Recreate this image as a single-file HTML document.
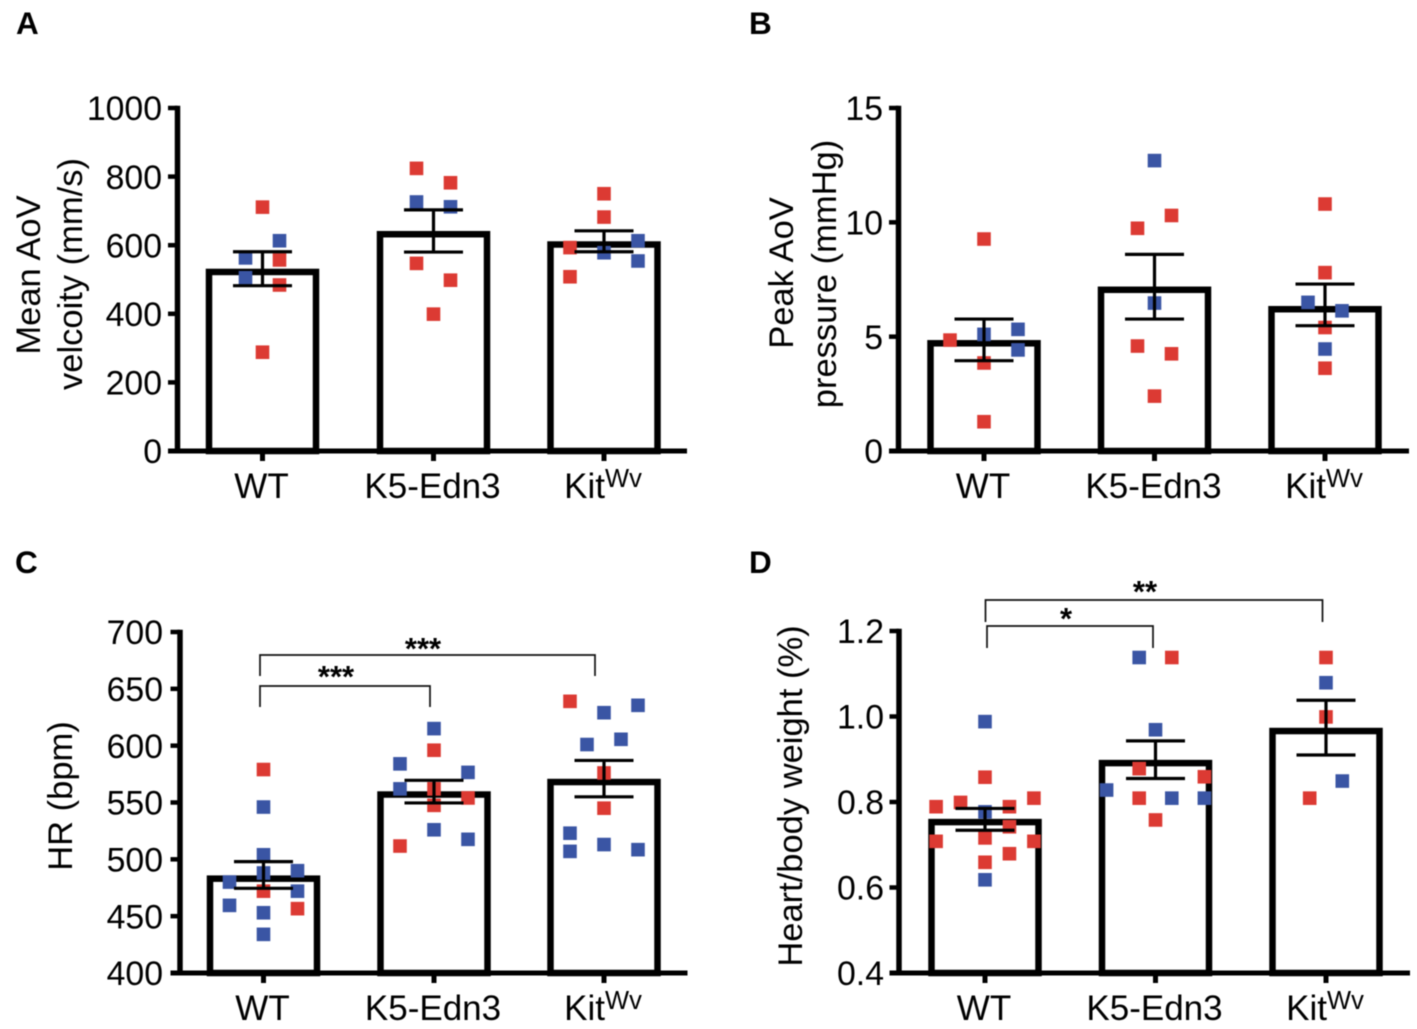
<!DOCTYPE html>
<html lang="en">
<head>
<meta charset="utf-8">
<title>Cardiac measurements in WT, K5-Edn3 and Kit-Wv mice</title>
<style>
html,body{margin:0;padding:0;background:#fff;overflow:hidden;}
svg{display:block;font-family:"Liberation Sans",Arial,sans-serif;filter:blur(0.4px);}
</style>
</head>
<body>
<svg id="figure" xmlns="http://www.w3.org/2000/svg" width="1417" height="1029" viewBox="0 0 1417 1029">
  <rect x="0" y="0" width="1417" height="1029" fill="#fff"/>
  <text x="16" y="34" font-size="31.5" font-weight="bold">A</text>
  <text x="749" y="34" font-size="31.5" font-weight="bold">B</text>
  <text x="15" y="573" font-size="31.5" font-weight="bold">C</text>
  <text x="749" y="573" font-size="31.5" font-weight="bold">D</text>

  <text transform="translate(40,275) rotate(-90)" text-anchor="middle" font-size="34.5">Mean AoV</text>
  <text transform="translate(82,274) rotate(-90)" text-anchor="middle" font-size="34.5">velcoity (mm/s)</text>
  <text transform="translate(793,273) rotate(-90)" text-anchor="middle" font-size="34.5">Peak AoV</text>
  <text transform="translate(836,274) rotate(-90)" text-anchor="middle" font-size="34.5">pressure (mmHg)</text>
  <text transform="translate(72,796) rotate(-90)" text-anchor="middle" font-size="34.5">HR (bpm)</text>
  <text transform="translate(802,796) rotate(-90)" text-anchor="middle" font-size="34.5">Heart/body weight (%)</text>
</svg>
<script>
// Shared categories
const categories = ["WT", "K5-Edn3", "Kit"];
const categorySuperscripts = ["", "", "Wv"];

// Panel A: mean AoV velocity
const aTicks = [0, 200, 400, 600, 800, 1000];
const aTickLabels = ["0", "200", "400", "600", "800", "1000"];
const aBars = [522, 632, 602];
const aErrHigh = [581, 703, 642];
const aErrLow = [482, 580, 581];
const aWtValues = [711, 613, 563, 557, 505, 484, 288];
const aWtSex = ["r", "b", "b", "r", "b", "r", "r"];
const aWtSlots = [0, 2, -2, 2, -2, 2, 0];
const aK5Values = [824, 782, 726, 712, 547, 498, 399];
const aK5Sex = ["r", "r", "b", "b", "r", "r", "r"];
const aK5Slots = [-2, 2, -2, 2, -2, 2, 0];
const aKitValues = [750, 682, 613, 593, 578, 554, 508];
const aKitSex = ["r", "r", "b", "r", "b", "b", "r"];
const aKitSlots = [0, 0, 4, -4, 0, 4, -4];

// Panel B: peak AoV pressure
const bTicks = [0, 5, 10, 15];
const bTickLabels = ["0", "5", "10", "15"];
const bBars = [4.71, 7.05, 6.2];
const bErrHigh = [5.77, 8.6, 7.3];
const bErrLow = [3.95, 5.77, 5.48];
const bWtValues = [9.27, 4.85, 5.32, 5.1, 4.42, 3.85, 1.28];
const bWtSex = ["r", "r", "b", "b", "b", "r", "r"];
const bWtSlots = [0, -4, 4, 0, 4, 0, 0];
const bK5Values = [12.7, 10.3, 9.74, 6.47, 4.59, 4.25, 2.4];
const bK5Sex = ["b", "r", "r", "b", "r", "r", "r"];
const bK5Slots = [0, 2, -2, 0, -2, 2, 0];
const bKitValues = [10.8, 7.8, 6.5, 6.13, 5.4, 4.46, 3.62];
const bKitSex = ["r", "r", "b", "b", "r", "b", "r"];
const bKitSlots = [0, 0, -2, 2, 0, 0, 0];

// Panel C: heart rate
const cTicks = [400, 450, 500, 550, 600, 650, 700];
const cTickLabels = ["400", "450", "500", "550", "600", "650", "700"];
const cBars = [483, 557, 568];
const cErrHigh = [498, 569.5, 587];
const cErrLow = [474.5, 549.6, 555];
const cWtValues = [579, 546, 504, 490, 488, 480, 472, 472, 459.5, 456.6, 453, 434];
const cWtSex = ["r", "b", "b", "b", "b", "b", "r", "b", "b", "r", "b", "b"];
const cWtSlots = [0, 0, 0, 4, 0, -4, 0, 4, -4, 4, 0, 0];
const cK5Values = [615, 596, 584, 576.5, 562, 562, 554, 547.5, 526, 517.6, 511.7];
const cK5Sex = ["b", "r", "b", "b", "b", "r", "r", "r", "b", "b", "r"];
const cK5Slots = [0, 0, -4, 4, -4, 0, 4, 0, 0, 4, -4];
const cKitValues = [639, 635.5, 629, 605.6, 601, 576, 545, 523, 513, 507, 508.5];
const cKitSex = ["r", "b", "b", "b", "b", "r", "r", "b", "b", "b", "b"];
const cKitSlots = [-4, 4, 0, 2, -2, 0, 0, -4, 0, -4, 4];

// Panel D: heart / body weight
const dTicks = [0.4, 0.6, 0.8, 1.0, 1.2];
const dTickLabels = ["0.4", "0.6", "0.8", "1.0", "1.2"];
const dBars = [0.753, 0.891, 0.966];
const dErrHigh = [0.785, 0.943, 1.038];
const dErrLow = [0.734, 0.855, 0.91];
const dWtValues = [0.988, 0.858, 0.809, 0.799, 0.789, 0.789, 0.777, 0.742, 0.716, 0.708, 0.708, 0.679, 0.659, 0.618];
const dWtSex = ["b", "r", "r", "r", "r", "r", "b", "r", "r", "r", "r", "r", "r", "b"];
const dWtSlots = [0, 0, 6, -3, -6, 3, 0, 3, 0, -6, 6, 3, 0, 0];
const dK5Values = [1.138, 1.138, 0.969, 0.878, 0.859, 0.828, 0.809, 0.809, 0.809, 0.758];
const dK5Sex = ["b", "r", "b", "r", "r", "b", "r", "b", "b", "r"];
const dK5Slots = [-2, 2, 0, -2, 6, -6, -2, 2, 6, 0];
const dKitValues = [1.138, 1.079, 0.999, 0.849, 0.809];
const dKitSex = ["r", "b", "r", "b", "r"];
const dKitSlots = [0, 0, 0, 2, -2];

const SVG_NS = "http://www.w3.org/2000/svg";
const figure = document.getElementById("figure");
const RED = "#dc3a33";
const BLUE = "#3a55a4";
const INK = "#000";

function make(tag, attrs, parent) {
  const el = document.createElementNS(SVG_NS, tag);
  Object.keys(attrs).forEach(function (k) { el.setAttribute(k, attrs[k]); });
  parent.appendChild(el);
  return el;
}

function drawBracket(parent, id, x1, x2, yTop, yBottom, stars, starX, starBaseline) {
  const path = make("path", {
    d: "M" + x1 + " " + yBottom + "V" + yTop + "H" + x2 + "V" + yBottom,
    fill: "none", stroke: "#111", "stroke-width": 1.7
  }, parent);
  
  
  const label = make("text", {
    x: starX, y: starBaseline, "text-anchor": "middle",
    "font-size": 31, "font-weight": "bold", fill: INK
  }, parent);
  
  
  label.textContent = stars;
}

function drawPanel(p) {
  const group = make("g", {}, figure);
  
  

  const dMin = p.ticks[0];
  const dMax = p.ticks[p.ticks.length - 1];
  const yScale = function (v) {
    return p.bottom - (v - dMin) / (dMax - dMin) * (p.bottom - p.top);
  };
  const xScale = function (i) { return p.centers[i]; };

  // bars
  p.bars.forEach(function (v, i) {
    const bar = make("rect", {
      x: xScale(i) - p.barHalf, y: yScale(v),
      width: p.barHalf * 2, height: p.bottom - yScale(v),
      fill: "#fff", stroke: INK, "stroke-width": 6.5
    }, group);
    
    
  });

  // points
  p.points.forEach(function (series, i) {
    series.values.forEach(function (v, j) {
      const cx = xScale(i) + series.slots[j] * p.slotWidth;
      const cy = yScale(v);
      const pt = make("rect", {
        x: cx - 6.8, y: cy - 6.8, width: 13.6, height: 13.6,
        fill: series.sex[j] === "r" ? RED : BLUE
      }, group);
      
      
    });
  });

  // error bars
  p.bars.forEach(function (v, i) {
    const cx = xScale(i);
    const hi = yScale(p.errHigh[i]);
    const lo = yScale(p.errLow[i]);
    const err = make("path", {
      d: "M" + (cx - 29.5) + " " + hi + "H" + (cx + 29.5) +
         "M" + cx + " " + hi + "V" + lo +
         "M" + (cx - 29.5) + " " + lo + "H" + (cx + 29.5),
      fill: "none", stroke: INK, "stroke-width": 3.2
    }, group);
    
    
  });

  // y axis
  const yAxis = make("line", {
    x1: p.axisX, x2: p.axisX, y1: p.top - 2.2, y2: p.bottom + 2.2,
    stroke: INK, "stroke-width": 5.5
  }, group);
  
  

  p.ticks.forEach(function (t, i) {
    const y = yScale(t);
    const tick = make("line", {
      x1: p.axisX - 9.5, x2: p.axisX, y1: y, y2: y,
      stroke: INK, "stroke-width": 4.5
    }, group);
    
    
    const label = make("text", {
      x: p.tickLabelRight, y: y + 12.2, "text-anchor": "end",
      "font-size": 33.8, fill: INK
    }, group);
    
    
    label.textContent = p.tickLabels[i];
  });

  // x axis
  const xAxis = make("line", {
    x1: p.axisX - 9.5, x2: p.axisEnd, y1: p.bottom, y2: p.bottom,
    stroke: INK, "stroke-width": 5
  }, group);
  
  

  categories.forEach(function (name, i) {
    const cx = xScale(i);
    const tick = make("line", {
      x1: cx, x2: cx, y1: p.bottom, y2: p.bottom + 10,
      stroke: INK, "stroke-width": 5
    }, group);
    
    
    const label = make("text", {
      x: cx - 1, y: p.bottom + 47, "text-anchor": "middle",
      "font-size": 35, fill: INK
    }, group);
    
    
    label.textContent = name;
    if (categorySuperscripts[i]) {
      const sup = make("tspan", { dy: -11, "font-size": 25.5 }, label);
      
      
      sup.textContent = categorySuperscripts[i];
    }
  });

  (p.brackets || []).forEach(function (b, i) {
    drawBracket(group, p.id + '-' + i, b.x1, b.x2, b.yTop, b.yBottom, b.stars, b.starX, b.starBaseline);
  });
}

drawPanel({
  id: "a", ticks: aTicks, tickLabels: aTickLabels, bars: aBars, errHigh: aErrHigh, errLow: aErrLow,
  points: [
    { values: aWtValues, sex: aWtSex, slots: aWtSlots },
    { values: aK5Values, sex: aK5Sex, slots: aK5Slots },
    { values: aKitValues, sex: aKitSex, slots: aKitSlots }
  ],
  top: 108, bottom: 451, axisX: 177.5, axisEnd: 687, tickLabelRight: 162,
  centers: [262.5, 433.5, 604], barHalf: 53.5, slotWidth: 8.5
});

drawPanel({
  id: "b", ticks: bTicks, tickLabels: bTickLabels, bars: bBars, errHigh: bErrHigh, errLow: bErrLow,
  points: [
    { values: bWtValues, sex: bWtSex, slots: bWtSlots },
    { values: bK5Values, sex: bK5Sex, slots: bK5Slots },
    { values: bKitValues, sex: bKitSex, slots: bKitSlots }
  ],
  top: 108, bottom: 451, axisX: 898.5, axisEnd: 1409, tickLabelRight: 883,
  centers: [984, 1154.5, 1325], barHalf: 53.5, slotWidth: 8.5
});

drawPanel({
  id: "c", ticks: cTicks, tickLabels: cTickLabels, bars: cBars, errHigh: cErrHigh, errLow: cErrLow,
  points: [
    { values: cWtValues, sex: cWtSex, slots: cWtSlots },
    { values: cK5Values, sex: cK5Sex, slots: cK5Slots },
    { values: cKitValues, sex: cKitSex, slots: cKitSlots }
  ],
  top: 632, bottom: 973, axisX: 180, axisEnd: 687.5, tickLabelRight: 163,
  centers: [263.5, 434, 604], barHalf: 53.5, slotWidth: 8.5,
  brackets: [
    { x1: 260, x2: 595, yTop: 655, yBottom: 676, stars: "***", starX: 423, starBaseline: 659 },
    { x1: 260, x2: 430, yTop: 686, yBottom: 707, stars: "***", starX: 336, starBaseline: 687 }
  ]
});

drawPanel({
  id: "d", ticks: dTicks, tickLabels: dTickLabels, bars: dBars, errHigh: dErrHigh, errLow: dErrLow,
  points: [
    { values: dWtValues, sex: dWtSex, slots: dWtSlots },
    { values: dK5Values, sex: dK5Sex, slots: dK5Slots },
    { values: dKitValues, sex: dKitSex, slots: dKitSlots }
  ],
  top: 631, bottom: 973, axisX: 899, axisEnd: 1410, tickLabelRight: 884,
  centers: [985, 1155.5, 1326], barHalf: 53.5, slotWidth: 8.15,
  brackets: [
    { x1: 985.5, x2: 1322.5, yTop: 600, yBottom: 622, stars: "**", starX: 1145, starBaseline: 602 },
    { x1: 987, x2: 1153, yTop: 626, yBottom: 648, stars: "*", starX: 1066, starBaseline: 629 }
  ]
});
</script>
</body>
</html>
